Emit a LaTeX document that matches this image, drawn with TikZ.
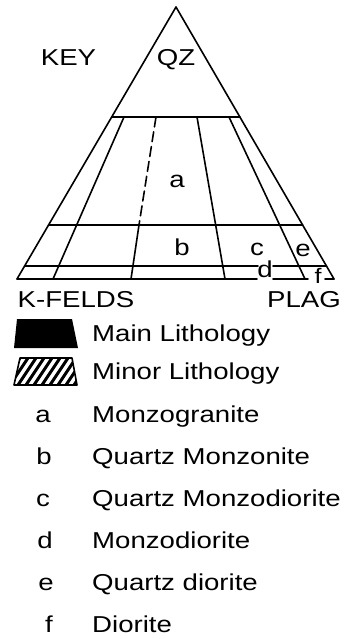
\documentclass[tikz,border=0pt]{standalone}
\usepackage{fontspec}
\newfontfamily\lf[FakeStretch=1.2]{Liberation Sans}
\usetikzlibrary{calc}
\begin{document}
\begin{tikzpicture}[x=1pt,y=-1pt,
  edge/.style={line width=1.6pt,line cap=round,line join=round},
  lbl/.style={font=\lf\fontsize{23}{27}\selectfont,inner sep=0pt},
  dashline/.style={edge,dash pattern=on 10pt off 5pt}]
\useasboundingbox (0,0) rectangle (354,639);
% corners
\coordinate (A) at (176,7);
\coordinate (BL) at (17,279);
\coordinate (BR) at (334,279);
\coordinate (L60) at ($(A)!0.4044!(BL)$);
\coordinate (R60) at ($(A)!0.4044!(BR)$);
\coordinate (L20) at ($(A)!0.8015!(BL)$);
\coordinate (R20) at ($(A)!0.8015!(BR)$);
\coordinate (L5) at ($(A)!0.9522!(BL)$);
\coordinate (R5) at ($(A)!0.9522!(BR)$);
% triangle edges
\draw[edge] (BL) -- (A) -- (BR);
% horizontal lines
\draw[edge] (L60) -- (R60);
\draw[edge] (L20) -- (R20);
\coordinate (q5a) at (258,266);
\coordinate (q5b) at (273,266);
\draw[edge] (L5) -- (q5a);
\draw[edge] (q5b) -- (R5);
\coordinate (b1) at (257,279);
\coordinate (b2) at (273,279);
\coordinate (b3) at (308,279);
\coordinate (b4) at (325,279);
\draw[edge] (BL) -- (b1);
\draw[edge] (b2) -- (b3);
\draw[edge] (b4) -- (BR);
% ratio lines
\coordinate (l1t) at (124,117); \coordinate (l1b) at (53,279);
\coordinate (l2t) at (156,117); \coordinate (l2m) at (139,225); \coordinate (l2b) at (131,279);
\coordinate (l3t) at (197,117); \coordinate (l3b) at (225,279);
\coordinate (l4t) at (229,117); \coordinate (l4b) at (305,279);
\draw[edge] (l1t) -- (l1b);
\draw[dashline] (l2t) -- (l2m);
\draw[edge] (l2m) -- (l2b);
\draw[edge] (l3t) -- (l3b);
\draw[edge] (l4t) -- (l4b);
% labels in diagram
\node[lbl,anchor=base] (key) at (68.5,66) {KEY};
\node[lbl,anchor=base] (qz) at (176,66) {QZ};
\node[lbl,anchor=base] (kf) at (76,307) {K-FELDS};
\node[lbl,anchor=base] (plag) at (304,307) {PLAG};
\node[lbl] (la) at (177,181) {a};
\node[lbl] (lb) at (182,247) {b};
\node[lbl] (lc) at (257,249) {c};
\node[lbl] (le) at (303,250) {e};
\node[lbl] (ld) at (265,269) {d};
\node[lbl,font=\lf\fontsize{21}{25}\selectfont] (lf) at (318,276) {f};
% legend swatches
\fill (17,319) -- (72,319) -- (78,348) -- (14,348) -- cycle;
\begin{scope}
  \clip (20,358) -- (72,358) -- (77,385) -- (14,385) -- cycle;
  \foreach \x in {-8,0,...,80} {
    \draw[line width=3pt] (\x,388) -- (\x+22,355);
  }
\end{scope}
\draw[line width=1.6pt,line join=round] (20,358) -- (72,358) -- (77,385) -- (14,385) -- cycle;
% legend text
\node[lbl,anchor=base west] (tmain) at (92,341) {Main Lithology};
\node[lbl,anchor=base west] (tminor) at (92,379) {Minor Lithology};
\node[lbl,anchor=base] (ka) at (43,422) {a};
\node[lbl,anchor=base west] (ta) at (92,422) {Monzogranite};
\node[lbl,anchor=base] (kb) at (44,464) {b};
\node[lbl,anchor=base west] (tb) at (92,464) {Quartz Monzonite};
\node[lbl,anchor=base] (kc) at (43,506) {c};
\node[lbl,anchor=base west] (tc) at (92,506) {Quartz Monzodiorite};
\node[lbl,anchor=base] (kd) at (45,548) {d};
\node[lbl,anchor=base west] (td) at (92,548) {Monzodiorite};
\node[lbl,anchor=base] (ke) at (46,590) {e};
\node[lbl,anchor=base west] (te) at (92,590) {Quartz diorite};
\node[lbl,anchor=base] (kf2) at (49,632) {f};
\node[lbl,anchor=base west] (tf) at (92,632) {Diorite};
\end{tikzpicture}
\end{document}
